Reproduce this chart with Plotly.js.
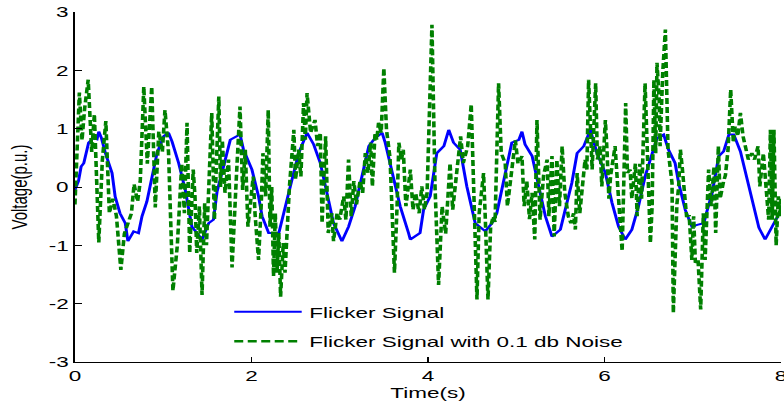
<!DOCTYPE html>
<html>
<head>
<meta charset="utf-8">
<script src="https://cdn.plot.ly/plotly-3.0.1.min.js"></script>
<style>
html,body{margin:0;padding:0;background:#fff;overflow:hidden;}
#wrap{width:784px;height:409px;overflow:hidden;}
#chart{width:523px;height:409px;transform:scaleX(1.49904);transform-origin:0 0;}
</style>
</head>
<body>
<div id="wrap"><div id="chart"></div></div>
<script>
// Flicker signal (time s, voltage p.u.)
const blueT = [0.00,0.04,0.07,0.10,0.155,0.21,0.25,0.27,0.30,0.345,0.42,0.455,0.51,0.57,0.60,0.665,0.72,0.76,0.815,0.89,0.93,1.005,1.06,1.10,1.175,1.25,1.325,1.44,1.515,1.57,1.61,1.665,1.72,1.76,1.87,1.91,2.005,2.08,2.12,2.195,2.31,2.38,2.46,2.535,2.63,2.705,2.78,2.855,2.93,3.025,3.10,3.175,3.25,3.33,3.385,3.48,3.515,3.59,3.685,3.78,3.80,3.91,3.95,4.025,4.10,4.18,4.235,4.29,4.365,4.44,4.535,4.65,4.725,4.78,4.84,4.895,4.95,5.03,5.065,5.10,5.18,5.255,5.33,5.405,5.50,5.555,5.63,5.69,5.765,5.84,5.915,6.01,6.085,6.16,6.235,6.31,6.385,6.46,6.54,6.595,6.67,6.725,6.80,6.84,6.915,6.99,7.05,7.125,7.16,7.22,7.295,7.35,7.41,7.465,7.54,7.615,7.69,7.75,7.82,7.90,7.975,8.00];
const blueV = [-0.05,0.10,0.35,0.41,0.76,0.84,0.82,0.95,0.84,0.58,0.24,-0.16,-0.45,-0.62,-0.93,-0.76,-0.79,-0.50,-0.25,0.30,0.58,0.87,0.93,0.78,0.41,-0.05,-0.68,-0.90,-0.62,-0.56,-0.08,0.24,0.58,0.81,0.90,0.64,0.30,-0.16,-0.50,-0.79,-0.79,-0.33,0.13,0.58,0.93,0.73,0.41,-0.10,-0.62,-0.93,-0.68,-0.33,0.13,0.70,0.81,0.93,0.76,0.30,-0.33,-0.79,-0.90,-0.79,-0.39,-0.16,0.58,0.70,0.98,0.76,0.64,0.01,-0.62,-0.76,-0.62,-0.45,0.01,0.35,0.76,0.81,0.95,0.73,0.53,0.01,-0.50,-0.85,-0.73,-0.39,0.07,0.58,0.70,0.98,0.58,0.24,-0.27,-0.68,-0.90,-0.73,-0.33,0.18,0.58,0.84,0.90,0.64,0.41,0.07,-0.39,-0.68,-0.65,-0.62,-0.42,-0.10,0.53,0.61,0.90,0.90,0.61,0.13,-0.39,-0.70,-0.90,-0.68,-0.45,-0.40];

// Flicker signal with 0.1 db noise
const greenT = [0.00,0.03,0.05,0.08,0.11,0.15,0.19,0.22,0.27,0.31,0.35,0.39,0.43,0.47,0.52,0.56,0.60,0.64,0.67,0.71,0.74,0.78,0.82,0.87,0.91,0.95,0.99,1.02,1.06,1.11,1.16,1.21,1.24,1.27,1.30,1.34,1.36,1.38,1.41,1.44,1.47,1.49,1.55,1.58,1.63,1.65,1.67,1.70,1.74,1.78,1.83,1.87,1.90,1.93,1.96,2.02,2.04,2.08,2.11,2.13,2.16,2.19,2.21,2.23,2.25,2.27,2.29,2.31,2.33,2.36,2.38,2.40,2.43,2.48,2.50,2.535,2.56,2.59,2.61,2.63,2.67,2.72,2.75,2.78,2.80,2.84,2.87,2.91,2.93,2.97,3.00,3.045,3.07,3.10,3.13,3.16,3.19,3.23,3.26,3.29,3.32,3.35,3.37,3.40,3.42,3.44,3.47,3.50,3.53,3.57,3.62,3.65,3.67,3.70,3.72,3.75,3.80,3.83,3.86,3.90,3.93,3.96,3.99,4.045,4.08,4.12,4.16,4.20,4.25,4.28,4.32,4.37,4.40,4.45,4.49,4.52,4.555,4.58,4.63,4.65,4.68,4.71,4.74,4.76,4.80,4.83,4.875,4.90,4.95,4.99,5.02,5.065,5.09,5.12,5.15,5.18,5.21,5.235,5.25,5.27,5.31,5.35,5.37,5.405,5.43,5.46,5.49,5.52,5.55,5.59,5.62,5.65,5.67,5.69,5.72,5.78,5.80,5.82,5.86,5.90,5.92,5.95,5.97,6.01,6.03,6.05,6.07,6.12,6.15,6.18,6.20,6.24,6.26,6.29,6.31,6.35,6.37,6.40,6.42,6.46,6.49,6.52,6.54,6.56,6.58,6.595,6.62,6.63,6.66,6.69,6.72,6.765,6.78,6.82,6.84,6.86,6.88,6.91,6.93,6.96,6.99,7.01,7.03,7.06,7.09,7.12,7.14,7.18,7.21,7.24,7.26,7.29,7.31,7.35,7.37,7.40,7.43,7.46,7.48,7.51,7.54,7.57,7.60,7.63,7.67,7.70,7.74,7.76,7.80,7.83,7.86,7.88,7.90,7.92,7.945,7.97,7.99,8.00];
const greenV = [-0.30,1.00,1.62,0.80,1.35,1.84,0.60,1.25,-0.95,0.45,1.13,-0.45,-0.20,-0.50,-1.42,-0.80,-0.65,-0.45,0.05,-0.25,0.10,1.72,0.40,1.72,-0.35,0.95,0.60,1.32,0.60,-1.78,-1.00,0.40,-0.45,1.10,-1.13,0.30,-0.16,-1.13,-0.33,-1.85,-0.28,-1.00,1.27,-0.56,1.55,0.00,0.80,-0.10,0.47,-1.38,0.20,1.38,-0.05,0.64,-0.68,0.18,-0.45,-1.25,-0.33,0.58,-0.16,1.32,-0.68,0.00,-1.53,-0.45,-1.47,-0.79,-1.88,-0.96,-1.47,-0.73,0.00,0.98,0.13,0.64,0.18,1.44,0.81,1.61,0.93,1.15,0.70,0.93,-0.62,0.87,-0.79,-0.45,-0.93,-0.45,-0.56,-0.16,-0.56,0.47,-0.50,0.10,-0.30,0.10,-0.10,0.58,0.24,0.76,0.01,0.93,0.81,1.10,0.93,2.04,0.98,0.50,-1.47,-0.33,0.76,0.47,0.64,-0.33,0.30,-0.39,-0.10,-0.45,0.01,-0.39,-0.10,2.78,0.01,-1.68,-0.33,-0.80,0.41,-0.39,0.20,0.87,0.41,0.70,1.42,-0.33,-1.93,-0.45,0.24,-0.56,-1.93,-0.68,-0.50,-0.60,1.78,0.58,0.41,-0.33,0.30,0.80,0.40,0.53,-0.33,0.10,-0.55,-0.10,-0.90,1.15,0.41,-0.56,0.20,0.47,-0.50,0.53,-0.85,0.47,-0.33,0.70,-0.10,-0.50,-0.62,-0.45,-0.73,0.24,-0.45,0.47,0.30,1.84,0.30,1.78,0.47,0.70,0.01,1.15,0.58,-0.20,0.20,0.70,0.01,-0.56,-1.10,1.44,0.24,0.30,-0.20,0.40,-0.50,0.40,-0.20,1.78,0.24,-0.96,-0.33,1.84,0.58,2.13,1.50,0.70,1.96,2.70,0.64,0.07,-2.16,-0.30,0.00,0.64,0.35,-0.20,-0.50,-0.50,-1.25,-0.50,-1.30,-1.25,-2.10,-0.45,-1.25,0.30,-0.33,0.35,-0.79,0.70,-0.20,0.10,0.20,0.64,1.67,0.76,1.04,0.87,1.27,0.87,0.64,0.47,0.58,0.47,0.70,0.01,0.58,-0.10,-0.56,0.98,-0.56,0.98,-1.00,-0.16,-0.50,-0.20];

const seriesNames = ["Flicker Signal", "Flicker Signal with 0.1 db Noise"];
const xTicks = [0, 2, 4, 6, 8];
const yTicks = [-3, -2, -1, 0, 1, 2, 3];
const yTickText = ["-3", "-2", "-1", "0", "1", "2", "3"];

const FONT = "Liberation Sans, Arial, Helvetica, sans-serif";

const traces = [
  {x: blueT, y: blueV, type: "scatter", mode: "lines", name: seriesNames[0],
   legendgroup: "a", line: {color: "#0000ff", width: 2}},
  {x: greenT, y: greenV, type: "scatter", mode: "lines", name: seriesNames[1],
   legendgroup: "b", line: {color: "#008000", width: 2.4, dash: "6px,3px"}}
];

const axisCommon = {
  showgrid: false, zeroline: false, showline: true, linecolor: "#000", linewidth: 1.2,
  ticks: "inside", ticklen: 5, tickwidth: 1, tickcolor: "#000",
  tickfont: {family: FONT, size: 15, color: "#000"}, mirror: false
};

const layout = {
  width: 523, height: 409,
  margin: {l: 50, r: 2, t: 12, b: 47},
  paper_bgcolor: "#fff", plot_bgcolor: "#fff",
  showlegend: true,
  xaxis: Object.assign({}, axisCommon, {
    range: [0, 8], tickmode: "array", tickvals: xTicks, ticklabeloverflow: "allow",
    title: {text: "Time(s)", font: {family: FONT, size: 15, color: "#000"}, standoff: 2}
  }),
  yaxis: Object.assign({}, axisCommon, {
    range: [-3, 3], tickmode: "array", tickvals: yTicks, ticktext: yTickText,
    title: {text: "Voltage(p.u.)", font: {family: FONT, size: 15, color: "#000"}, standoff: 10}
  }),
  legend: {
    x: 0.215, y: 0.19, xanchor: "left", yanchor: "top",
    bgcolor: "rgba(255,255,255,0)", borderwidth: 0,
    traceorder: "grouped", tracegroupgap: 7, itemwidth: 45,
    font: {family: FONT, size: 15, color: "#000"}
  }
};

Plotly.newPlot("chart", traces, layout, {staticPlot: true, displayModeBar: false});
</script>
</body>
</html>
